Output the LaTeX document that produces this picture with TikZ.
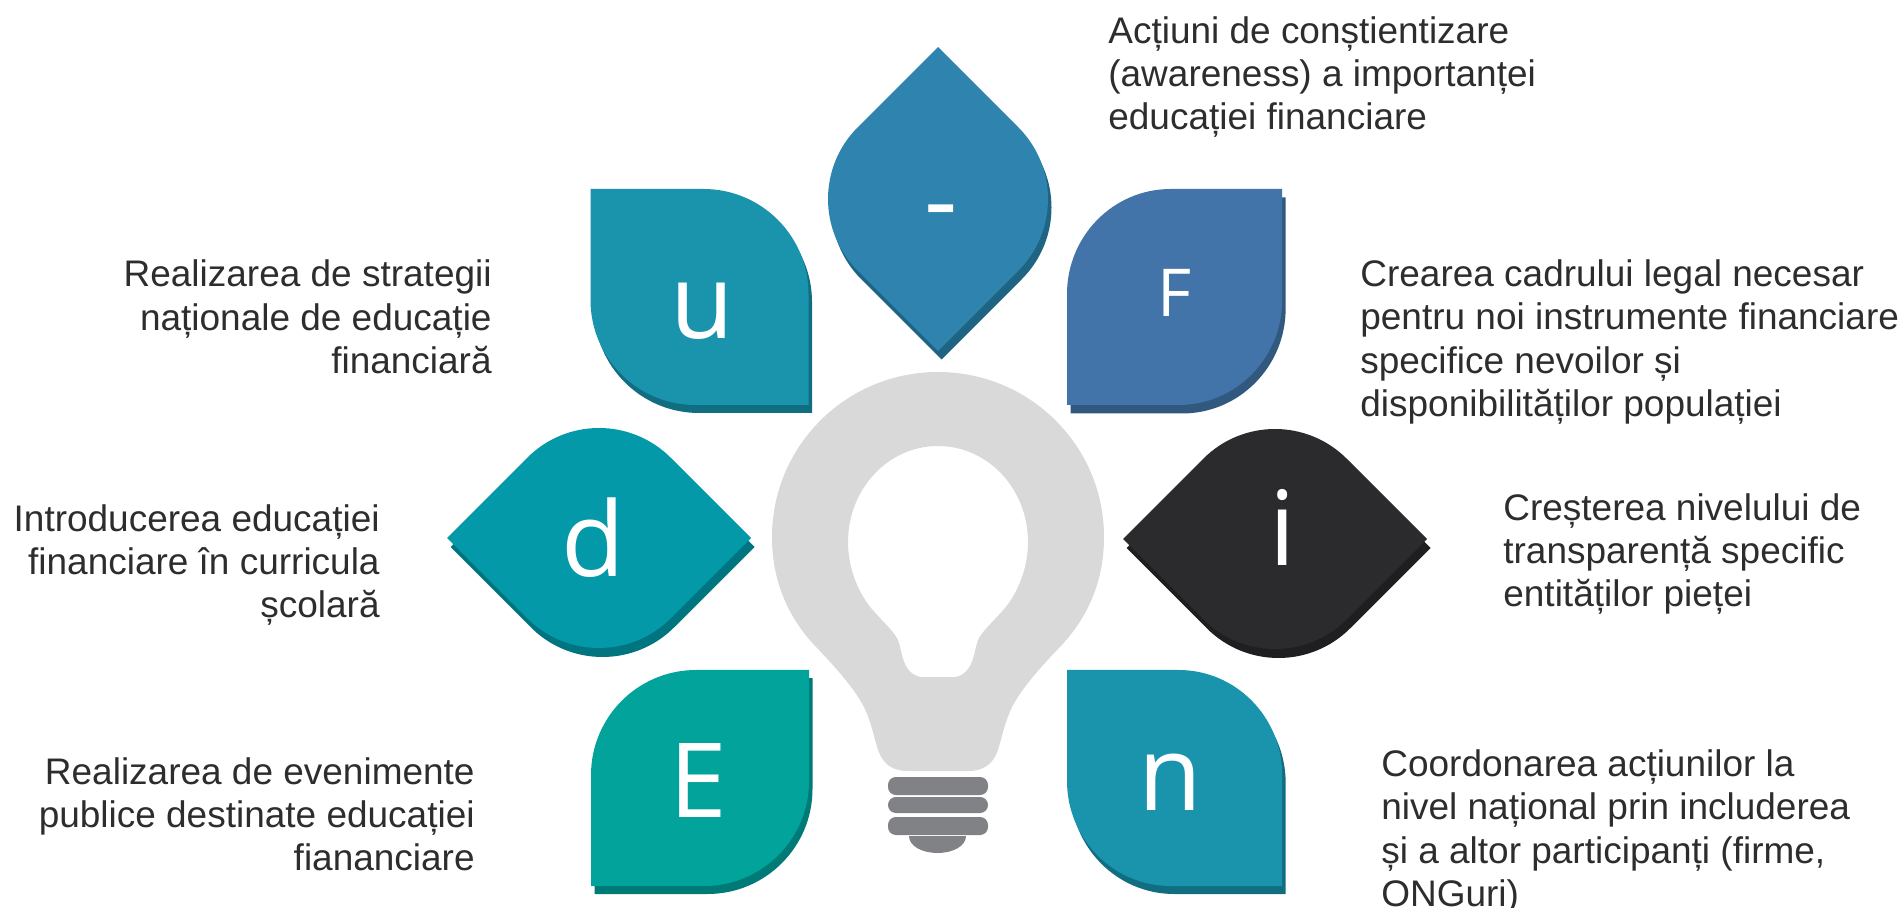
\documentclass[tikz,border=0pt]{standalone}
\usepackage{fontspec}
\setmainfont{Liberation Sans}
\newfontfamily\letterfont{Open Sans}
\usepackage{xcolor}
\definecolor{petalblue}{HTML}{1A93AD}
\definecolor{petalblues}{HTML}{116D80}
\definecolor{petaltop}{HTML}{2E84AF}
\definecolor{petaltops}{HTML}{1F6483}
\definecolor{petalf}{HTML}{4374A9}
\definecolor{petalfs}{HTML}{31587F}
\definecolor{petald}{HTML}{0499A8}
\definecolor{petalds}{HTML}{00757F}
\definecolor{petale}{HTML}{01A39B}
\definecolor{petales}{HTML}{007A76}
\definecolor{petali}{HTML}{2B2B2D}
\definecolor{petalis}{HTML}{1F1F21}
\definecolor{bulb}{HTML}{D9D9D9}
\definecolor{screw}{HTML}{808285}
\definecolor{bodytext}{HTML}{2D2D2D}

\begin{document}
\begin{tikzpicture}[x=0.02cm,y=-0.02cm]

\tikzstyle{letter}=[anchor=base,inner sep=0pt,text=white,font=\letterfont\fontsize{59}{59}\selectfont]
\tikzstyle{bigtext}=[inner sep=0pt,text=bodytext,font=\fontsize{21.05}{24.6}\selectfont]
\tikzstyle{lefttext}=[bigtext,anchor=west,align=left]
\tikzstyle{righttext}=[bigtext,anchor=east,align=right]

\def\leafa{(0,0) -- (113,0) .. controls (171,0) and (218,47) .. (218,105) -- (218,216) -- (105,216) .. controls (47,216) and (0,169) .. (0,111) -- cycle}
\def\leafb{(218,0) -- (105,0) .. controls (47,0) and (0,47) .. (0,105) -- (0,216) -- (113,216) .. controls (171,216) and (218,169) .. (218,111) -- cycle}
\def\drop{(-152,0) -- (-71.7,-80.3) .. controls (-32.1,-119.9) and (32.1,-119.9) .. (71.7,-80.3) -- (152,0) -- (71.7,80.3) .. controls (32.1,119.9) and (-32.1,119.9) .. (-71.7,80.3) -- cycle}

\useasboundingbox (0,0) rectangle (1904,908);

\fill[petaltops,shift={(941.5,207.5)},rotate=90] \drop;
\fill[petaltop,shift={(938,199)},rotate=90] \drop;
\fill[petalblues,shift={(594,197)}] \leafa;
\fill[petalblue,shift={(590.5,189)}] \leafa;
\fill[petalfs,shift={(1070.5,197.5)},xscale=0.987] \leafb;
\fill[petalf,shift={(1067,189)},xscale=0.987] \leafb;
\fill[petalds,shift={(602.5,547)}] \drop;
\fill[petald,shift={(599,538)}] \drop;
\fill[petalis,shift={(1278.5,548)}] \drop;
\fill[petali,shift={(1275,539)}] \drop;
\fill[petales,shift={(594.5,678)}] \leafb;
\fill[petale,shift={(591,670)}] \leafb;
\fill[petalblues,shift={(1070.5,678)},xscale=0.987] \leafa;
\fill[petalblue,shift={(1067,670)},xscale=0.987] \leafa;

\fill[bulb,even odd rule] (938,372) .. controls (1030,372) and (1104,446) .. (1104,537)
  .. controls (1104,585) and (1085,622) .. (1057,650)
  .. controls (1040,668) and (1022,688) .. (1012,707)
  .. controls (1005,722) and (1003,733) .. (998,750)
  .. controls (993,764) and (984,771) .. (968,771) -- (908,771)
  .. controls (892,771) and (883,764) .. (878,750)
  .. controls (873,733) and (871,722) .. (864,707)
  .. controls (854,688) and (836,668) .. (819,650)
  .. controls (791,622) and (772,585) .. (772,537)
  .. controls (772,446) and (846,372) .. (938,372) -- cycle
  (938,446) .. controls (988,446) and (1028,489) .. (1028,542)
  .. controls (1028,568) and (1018,592) .. (1005,608)
  .. controls (993,622) and (983,630) .. (978,640)
  .. controls (974,650) and (974,674) .. (955,677) -- (921,677)
  .. controls (902,674) and (902,650) .. (898,640)
  .. controls (893,630) and (883,622) .. (871,608)
  .. controls (858,592) and (848,568) .. (848,542)
  .. controls (848,489) and (888,446) .. (938,446) -- cycle;

\fill[screw,rounded corners=4.5pt] (888,777) rectangle (988,795);
\fill[screw,rounded corners=4.5pt] (888,797) rectangle (988,813);
\fill[screw,rounded corners=4.5pt] (888,817) rectangle (988,835);
\fill[screw] (909,836) -- (966,836) .. controls (966,846) and (953,853) .. (937.5,853) .. controls (922,853) and (909,846) .. (909,836) -- cycle;

\node[letter] (dash) at (941,237) {-};
\node[letter] (u) at (702,339) {u};
\node[letter,font=\letterfont\fontsize{37.6}{37.6}\selectfont] (F) at (1175,317) {F};
\node[letter] (d) at (593.5,577) {d};
\node[letter] (i) at (1283,566) {i};
\node[letter] (E) at (698,817) {E};
\node[letter] (n) at (1170,810) {n};

\node[lefttext] (awareness) at (1108,77) {Acțiuni de conștientizare\\(awareness) a importanței\\educației financiare};
\node[lefttext] (cadru) at (1360,342) {Crearea cadrului legal necesar\\pentru noi instrumente financiare\\specifice nevoilor și\\disponibilităților populației};
\node[lefttext] (transparenta) at (1503,554) {Creșterea nivelului de\\transparență specific\\entităților pieței};
\node[lefttext] (coordonare) at (1381,832) {Coordonarea acțiunilor la\\nivel național prin includerea\\și a altor participanți (firme,\\ONGuri)};
\node[righttext] (strategii) at (492,317) {Realizarea de strategii\\naționale de educație\\financiară};
\node[righttext] (curricula) at (380,565) {Introducerea educației\\financiare în curricula\\școlară};
\node[righttext] (evenimente) at (475,814) {Realizarea de evenimente\\publice destinate educației\\fiananciare};
\end{tikzpicture}
\end{document}
